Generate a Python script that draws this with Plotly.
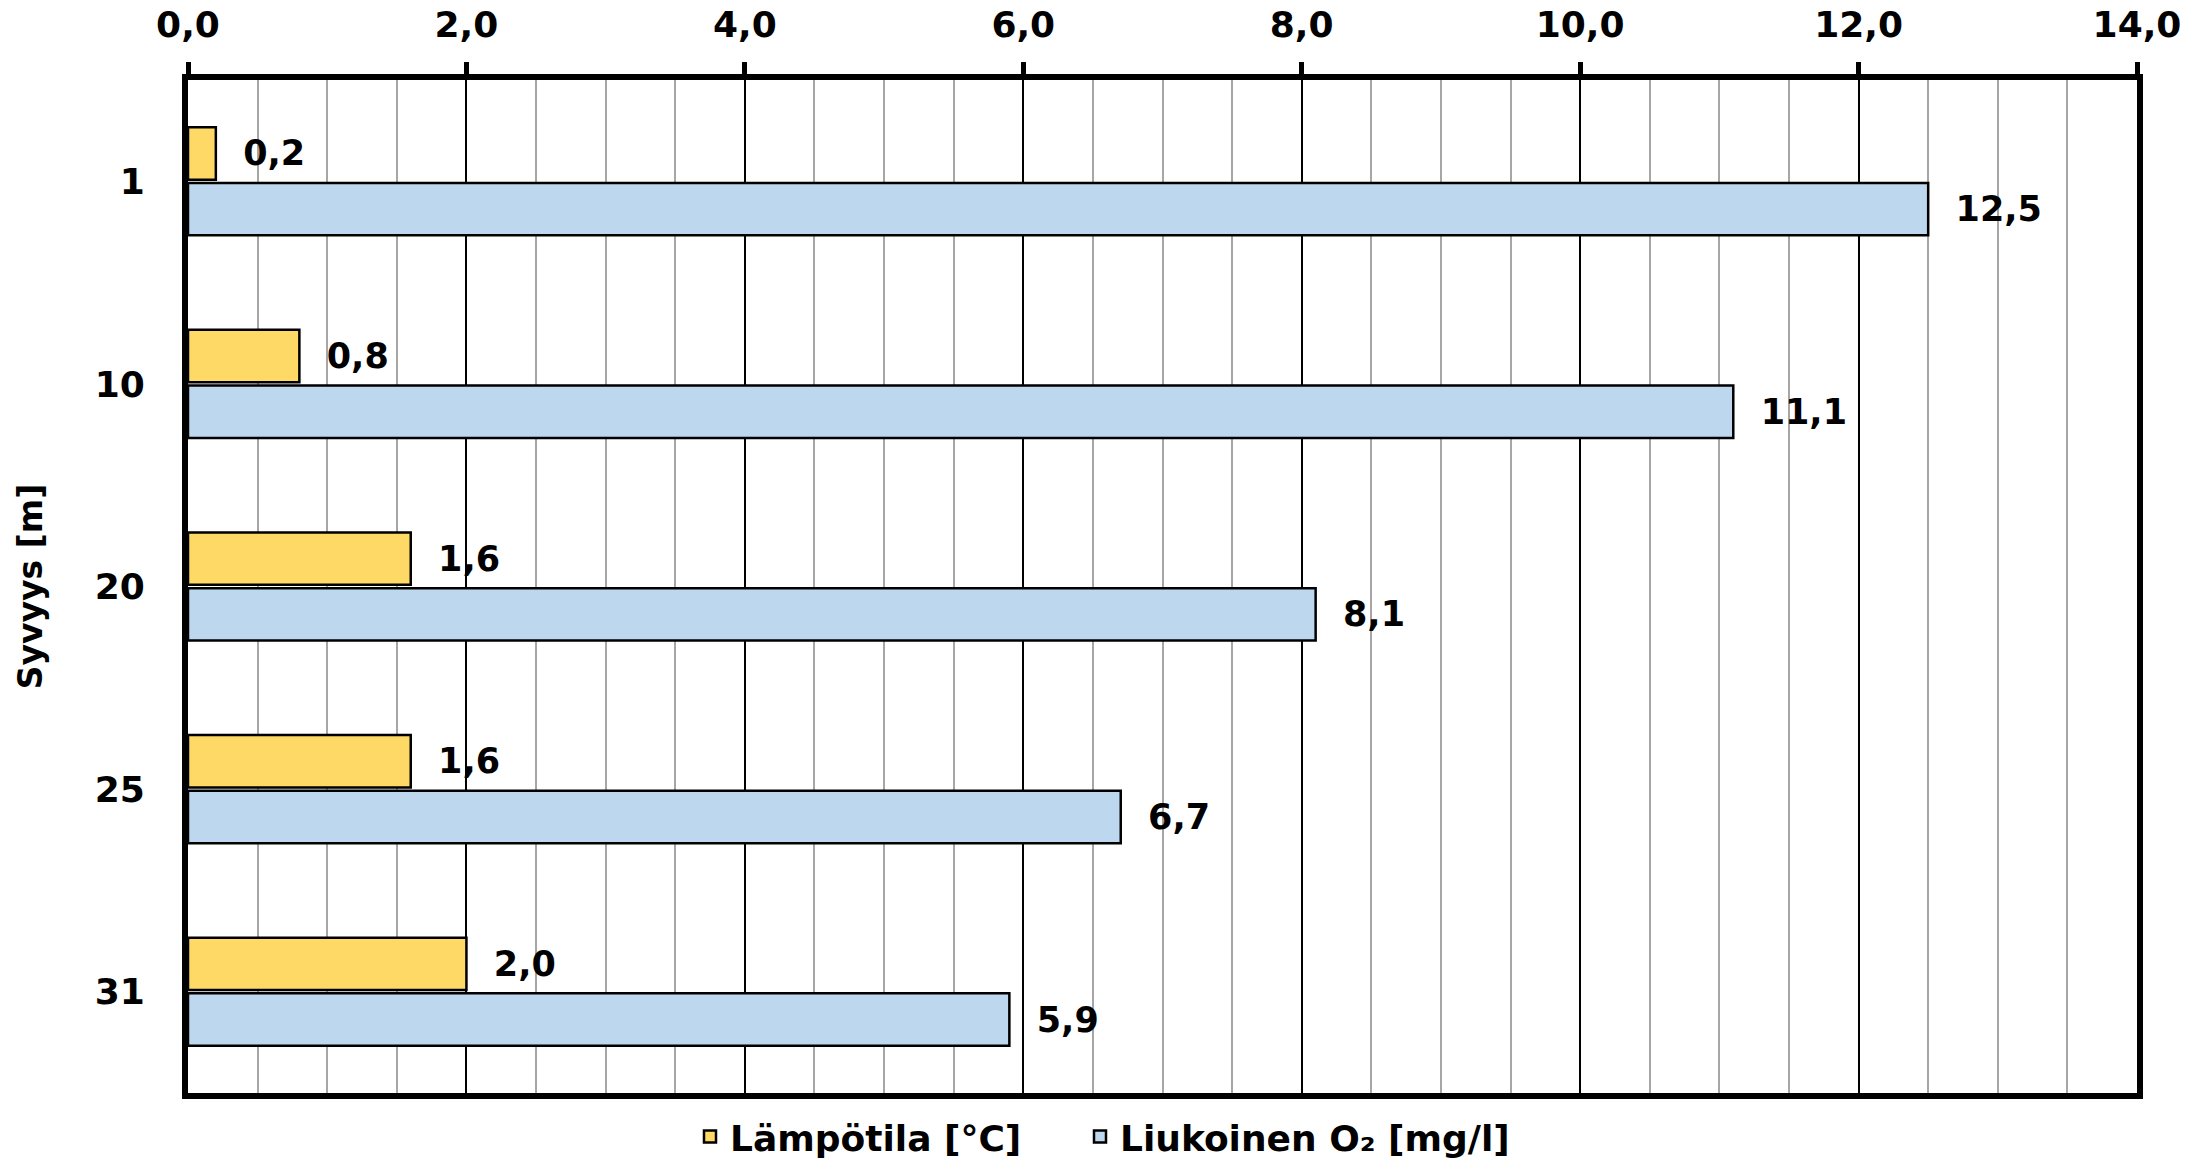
import plotly.graph_objects as go

depths = ["1", "10", "20", "25", "31"]
temperature = [0.2, 0.8, 1.6, 1.6, 2.0]
oxygen = [12.5, 11.1, 8.1, 6.7, 5.9]
series_names = ["Lämpötila [°C]", "Liukoinen O₂ [mg/l]"]
y_title = "Syvyys [m]"

FONT = "DejaVu Sans"
YELLOW = "#FFD966"
BLUE = "#BDD7EE"

fig = go.Figure()
for name, vals, col, lg in [(series_names[0], temperature, YELLOW, "legend"),
                            (series_names[1], oxygen, BLUE, "legend2")]:
    fig.add_trace(go.Bar(
        y=depths, x=vals, orientation="h", name=name, legend=lg,
        marker=dict(color=col, line=dict(color="black", width=2.5)),
        texttemplate="\u00a0\u00a0%{x:.1f}", textposition="outside",
        constraintext="none", cliponaxis=False,
        textfont=dict(family=FONT, size=35, color="black", weight="bold"),
    ))

L, R, T, B = 188, 55, 80, 65
PW = 2192 - L - R
legend_common = dict(orientation="h", xanchor="left", y=-0.043, yanchor="middle",
                     font=dict(family=FONT, size=36, color="black", weight="bold"),
                     itemwidth=30, bgcolor="rgba(0,0,0,0)")
fig.update_layout(
    width=2192, height=1158,
    margin=dict(l=L, r=R, t=T, b=B, autoexpand=False),
    paper_bgcolor="white", plot_bgcolor="white",
    separators=", ",
    barmode="group", bargap=0.45, bargroupgap=0.06,
    font=dict(family=FONT, color="black", weight="bold"),
    showlegend=True,
    legend=dict(x=(690 - L) / PW, **legend_common),
    legend2=dict(x=(1080 - L) / PW, **legend_common),
    xaxis=dict(
        side="top", range=[0, 14], dtick=2, tick0=0, tickformat=".1f",
        showgrid=True, gridcolor="black", gridwidth=2,
        minor=dict(dtick=0.5, showgrid=True, gridcolor="#A6A6A6", gridwidth=2),
        showline=True, linecolor="black", linewidth=6, mirror=True,
        ticks="outside", ticklen=12, tickwidth=5, tickcolor="black",
        ticklabelstandoff=11, automargin=False,
        tickfont=dict(family=FONT, size=36, color="black", weight="bold"),
        zeroline=False,
    ),
    yaxis=dict(
        type="category", autorange="reversed", automargin=False,
        showline=True, linecolor="black", linewidth=6, mirror=True,
        showgrid=False, ticks="", ticklabelstandoff=30,
        tickfont=dict(family=FONT, size=36, color="black", weight="bold"),
        title=dict(text=y_title, standoff=44,
                   font=dict(family=FONT, size=33, color="black", weight="bold")),
    ),
)

fig.write_html("out.html")
